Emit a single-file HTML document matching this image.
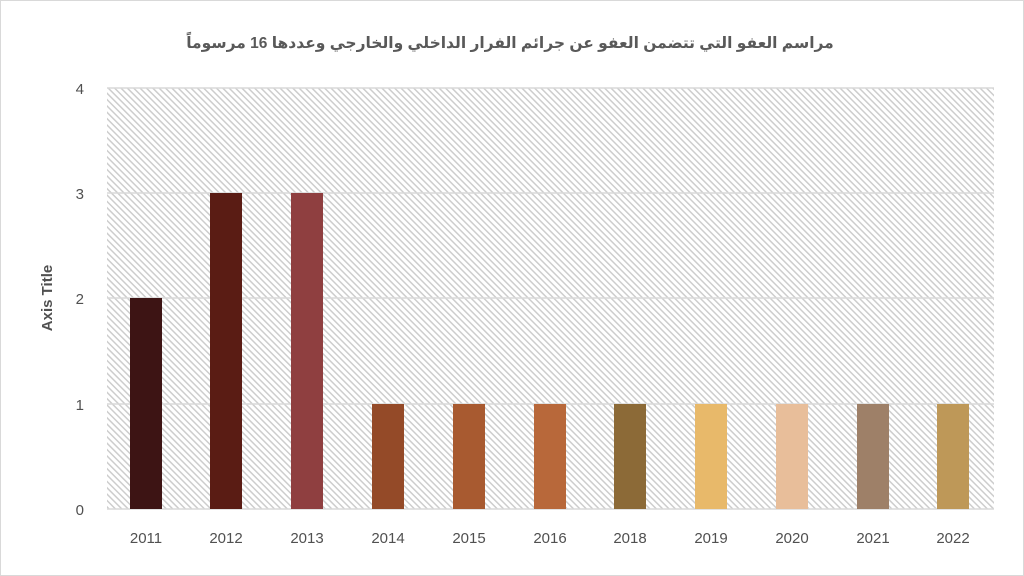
<!DOCTYPE html>
<html><head><meta charset="utf-8"><style>
html,body{margin:0;padding:0;background:#fff;}
</style></head><body>
<svg width="1024" height="576" xmlns="http://www.w3.org/2000/svg" style="display:block">
<defs>
<pattern id="h" width="4.5" height="4.5" patternUnits="userSpaceOnUse" patternTransform="rotate(-45)">
<rect width="4.5" height="4.5" fill="#fff"/>
<line x1="0.75" y1="0" x2="0.75" y2="4.5" stroke="#cdcdcd" stroke-width="1.5"/>
</pattern>
</defs>
<rect x="0.5" y="0.5" width="1023" height="575" fill="#fff" stroke="#d9d9d9"/>
<text x="510" y="48" text-anchor="middle" font-family="'Liberation Sans','DejaVu Sans',sans-serif" font-size="15.5" font-weight="bold" fill="#595959" direction="rtl">مراسم العفو التي تتضمن العفو عن جرائم الفرار الداخلي والخارجي وعددها 16 مرسوماً</text>
<rect x="107" y="88" width="887" height="421" fill="url(#h)"/>
<g stroke="#d9d9d9" stroke-width="1.5">
<line x1="107" y1="88" x2="994" y2="88"/>
<line x1="107" y1="193" x2="994" y2="193"/>
<line x1="107" y1="298" x2="994" y2="298"/>
<line x1="107" y1="404" x2="994" y2="404"/>
<line x1="107" y1="509" x2="994" y2="509"/>
</g>
<g>
<rect x="130" y="298" width="32" height="211" fill="#3d1414"/>
<rect x="210" y="193" width="32" height="316" fill="#5a1c14"/>
<rect x="291" y="193" width="32" height="316" fill="#8f3f40"/>
<rect x="372" y="404" width="32" height="105" fill="#944a28"/>
<rect x="453" y="404" width="32" height="105" fill="#a85a30"/>
<rect x="534" y="404" width="32" height="105" fill="#b8683a"/>
<rect x="614" y="404" width="32" height="105" fill="#8c6a37"/>
<rect x="695" y="404" width="32" height="105" fill="#e8b96a"/>
<rect x="776" y="404" width="32" height="105" fill="#e8be9a"/>
<rect x="857" y="404" width="32" height="105" fill="#9e8068"/>
<rect x="937" y="404" width="32" height="105" fill="#be9858"/>
</g>
<g font-family="'Liberation Sans',sans-serif" font-size="15" fill="#505050">
<g text-anchor="end">
<text x="84" y="94">4</text><text x="84" y="199">3</text><text x="84" y="304">2</text><text x="84" y="410">1</text><text x="84" y="515">0</text>
</g>
<g text-anchor="middle">
<text x="146" y="543">2011</text><text x="226" y="543">2012</text><text x="307" y="543">2013</text><text x="388" y="543">2014</text><text x="469" y="543">2015</text><text x="550" y="543">2016</text><text x="630" y="543">2018</text><text x="711" y="543">2019</text><text x="792" y="543">2020</text><text x="873" y="543">2021</text><text x="953" y="543">2022</text>
</g>
<text x="0" y="0" transform="translate(52,298) rotate(-90)" text-anchor="middle" font-weight="bold" font-size="15">Axis Title</text>
</g>
</svg>
</body></html>
